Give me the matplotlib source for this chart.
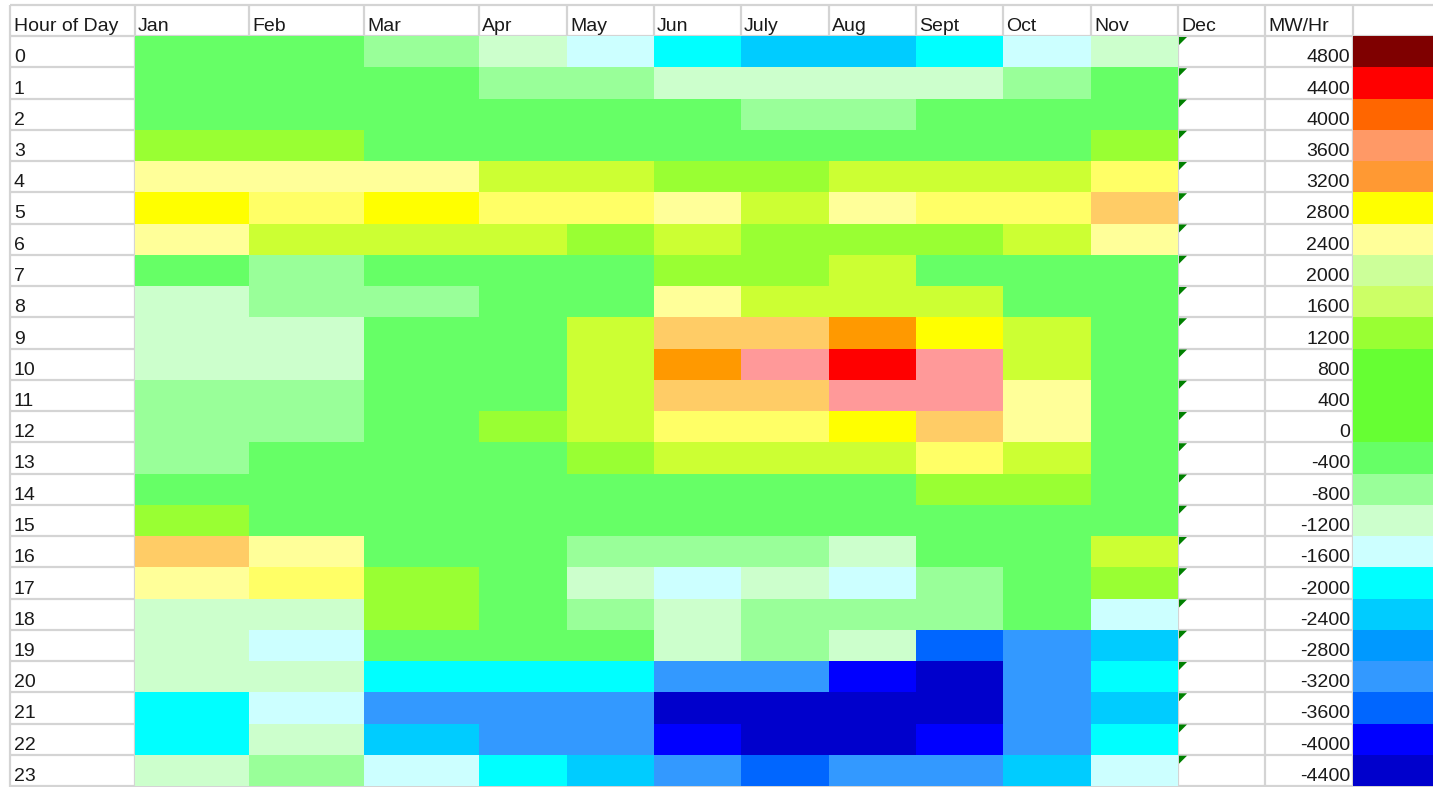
"""
Hourly MW/Hr net load grid by month, drawn like the spreadsheet it came from.
Usage: python plot.py
"""

import numpy as np
import matplotlib
matplotlib.use("Agg")
import matplotlib.pyplot as plt
from matplotlib.colors import ListedColormap, BoundaryNorm
from matplotlib.patches import Polygon

plt.rcParams["font.family"] = ["Liberation Sans", "DejaVu Sans"]

# ── data ──────────────────────────────────────────────────────
months = ["Jan", "Feb", "Mar", "Apr", "May", "Jun", "July", "Aug",
          "Sept", "Oct", "Nov", "Dec"]
hours = list(range(24))

# MW/Hr levels used in the grid
R, P, O, LO, Y, Y2, LY = 4400, 3600, 3200, 3000, 2800, 2600, 2400
CY, G1, G, LG, PG, PC = 1600, 1200, -400, -800, -1200, -1600
C, SC, MB, B6, B, DB = -2000, -2400, -3200, -3600, -4000, -4400

# rows = hour 0..23, columns = Jan..Nov (Dec is empty)
mw = [
    [G,  G,  LG, PG, PC, C,  SC, SC, C,  PC, PG],
    [G,  G,  G,  LG, LG, PG, PG, PG, PG, LG, G],
    [G,  G,  G,  G,  G,  G,  LG, LG, G,  G,  G],
    [G1, G1, G,  G,  G,  G,  G,  G,  G,  G,  G1],
    [LY, LY, LY, CY, CY, G1, G1, CY, CY, CY, Y2],
    [Y,  Y2, Y,  Y2, Y2, LY, CY, LY, Y2, Y2, LO],
    [LY, CY, CY, CY, G1, CY, G1, G1, G1, CY, LY],
    [G,  LG, G,  G,  G,  G1, G1, CY, G,  G,  G],
    [PG, LG, LG, G,  G,  LY, CY, CY, CY, G,  G],
    [PG, PG, G,  G,  CY, LO, LO, O,  Y,  CY, G],
    [PG, PG, G,  G,  CY, O,  P,  R,  P,  CY, G],
    [LG, LG, G,  G,  CY, LO, LO, P,  P,  LY, G],
    [LG, LG, G,  G1, CY, Y2, Y2, Y,  LO, LY, G],
    [LG, G,  G,  G,  G1, CY, CY, CY, Y2, CY, G],
    [G,  G,  G,  G,  G,  G,  G,  G,  G1, G1, G],
    [G1, G,  G,  G,  G,  G,  G,  G,  G,  G,  G],
    [LO, LY, G,  G,  LG, LG, LG, PG, G,  G,  CY],
    [LY, Y2, G1, G,  PG, PC, PG, PC, LG, G,  G1],
    [PG, PG, G1, G,  LG, PG, LG, LG, LG, G,  PC],
    [PG, PC, G,  G,  G,  PG, LG, PG, B6, MB, SC],
    [PG, PG, C,  C,  C,  MB, MB, B,  DB, MB, C],
    [C,  PC, MB, MB, MB, DB, DB, DB, DB, MB, SC],
    [C,  PG, SC, MB, MB, B,  DB, DB, B,  MB, C],
    [PG, LG, PC, C,  SC, MB, B6, MB, MB, SC, PC],
]

cell_levels = [-4400, -4000, -3600, -3200, -2400, -2000, -1600, -1200, -800,
               -400, 1200, 1600, 2400, 2600, 2800, 3000, 3200, 3600, 4400]
cell_colors = ["#0000CC", "#0000FF", "#0066FF", "#3399FF", "#00CCFF", "#00FFFF",
               "#CCFFFF", "#CCFFCC", "#99FF99", "#66FF66", "#99FF33", "#CCFF33",
               "#FFFF99", "#FFFF66", "#FFFF00", "#FFCC66", "#FF9900", "#FF9999",
               "#FF0000"]

legend_mw = [4800, 4400, 4000, 3600, 3200, 2800, 2400, 2000, 1600, 1200, 800,
             400, 0, -400, -800, -1200, -1600, -2000, -2400, -2800, -3200,
             -3600, -4000, -4400]
legend_colors = ["#7F0000", "#FF0000", "#FF6600", "#FF9966", "#FF9933", "#FFFF00",
                 "#FFFF99", "#CCFF99", "#CCFF66", "#99FF33", "#66FF33", "#66FF33",
                 "#66FF33", "#66FF66", "#99FF99", "#CCFFCC", "#CCFFFF", "#00FFFF",
                 "#00CCFF", "#0099FF", "#3399FF", "#0066FF", "#0000FF", "#0000CC"]

# ── sheet layout (pixels) ─────────────────────────────────────
W, H = 1433, 787
col_edges = [10, 135, 249, 364, 479, 567, 654, 741, 829, 916, 1003, 1091,
             1178, 1265, 1353, 1433]
top, head_bot, row_h = 5, 36, 31.25
row_edges = head_bot + row_h * np.arange(25)
GRID = "#D4D4D4"
TXT = "#1A1A1A"
FS = 14


def level_map(levels, colors):
    lv = np.asarray(levels, float)
    mids = (lv[:-1] + lv[1:]) / 2
    bounds = np.concatenate([[lv[0] - 1000], mids, [lv[-1] + 1000]])
    return ListedColormap(colors), BoundaryNorm(bounds, len(colors))


fig = plt.figure(figsize=(W / 100, H / 100), dpi=100)
ax = fig.add_axes([0, 0, 1, 1])
ax.set_xlim(0, W)
ax.set_ylim(H, 0)
ax.axis("off")

# gridlines first, fills cover them like Excel does
for y in [top] + list(row_edges):
    ax.plot([col_edges[0], W], [y, y], color=GRID, lw=1.6, zorder=1,
            solid_capstyle="butt")
for x in col_edges[:-1]:
    ax.plot([x, x], [top, H], color=GRID, lw=1.6, zorder=1,
            solid_capstyle="butt")

# monthly grid
grid = np.full((24, 12), np.nan)
grid[:, :11] = np.array(mw, float)
cmap, norm = level_map(cell_levels, cell_colors)
ax.pcolormesh(col_edges[1:14], row_edges, np.ma.masked_invalid(grid),
              cmap=cmap, norm=norm, zorder=2)

# colour key column
leg_levels = sorted(set(legend_mw))
leg_cols = [legend_colors[legend_mw.index(v)] for v in leg_levels]
lcmap, lnorm = level_map(leg_levels, leg_cols)
ax.pcolormesh(col_edges[14:16], row_edges, np.array(legend_mw, float)[:, None],
              cmap=lcmap, norm=lnorm, zorder=2)

# header row
base = head_bot - 5
ax.text(col_edges[0] + 4, base, "Hour of Day", fontsize=FS, color=TXT,
        va="baseline", ha="left", zorder=3)
for i, m in enumerate(months):
    ax.text(col_edges[1 + i] + 3, base, m, fontsize=FS, color=TXT,
            va="baseline", ha="left", zorder=3)
ax.text(col_edges[13] + 3, base, "MW/Hr", fontsize=FS, color=TXT,
        va="baseline", ha="left", zorder=3)

# hour labels, MW/Hr key values, Dec error markers
for r, h in enumerate(hours):
    yb = row_edges[r + 1] - 5
    ax.text(col_edges[0] + 4, yb, str(h), fontsize=FS, color=TXT,
            va="baseline", ha="left", zorder=3)
    ax.text(col_edges[14] - 3, yb, str(legend_mw[r]), fontsize=FS, color=TXT,
            va="baseline", ha="right", zorder=3)
    x0, y0 = col_edges[12] + 1, row_edges[r] + 1
    ax.add_patch(Polygon([[x0, y0], [x0 + 8, y0], [x0, y0 + 8]],
                         closed=True, color="#008000", lw=0, zorder=3))

fig.savefig("out.png", dpi=100)
plt.close(fig)
